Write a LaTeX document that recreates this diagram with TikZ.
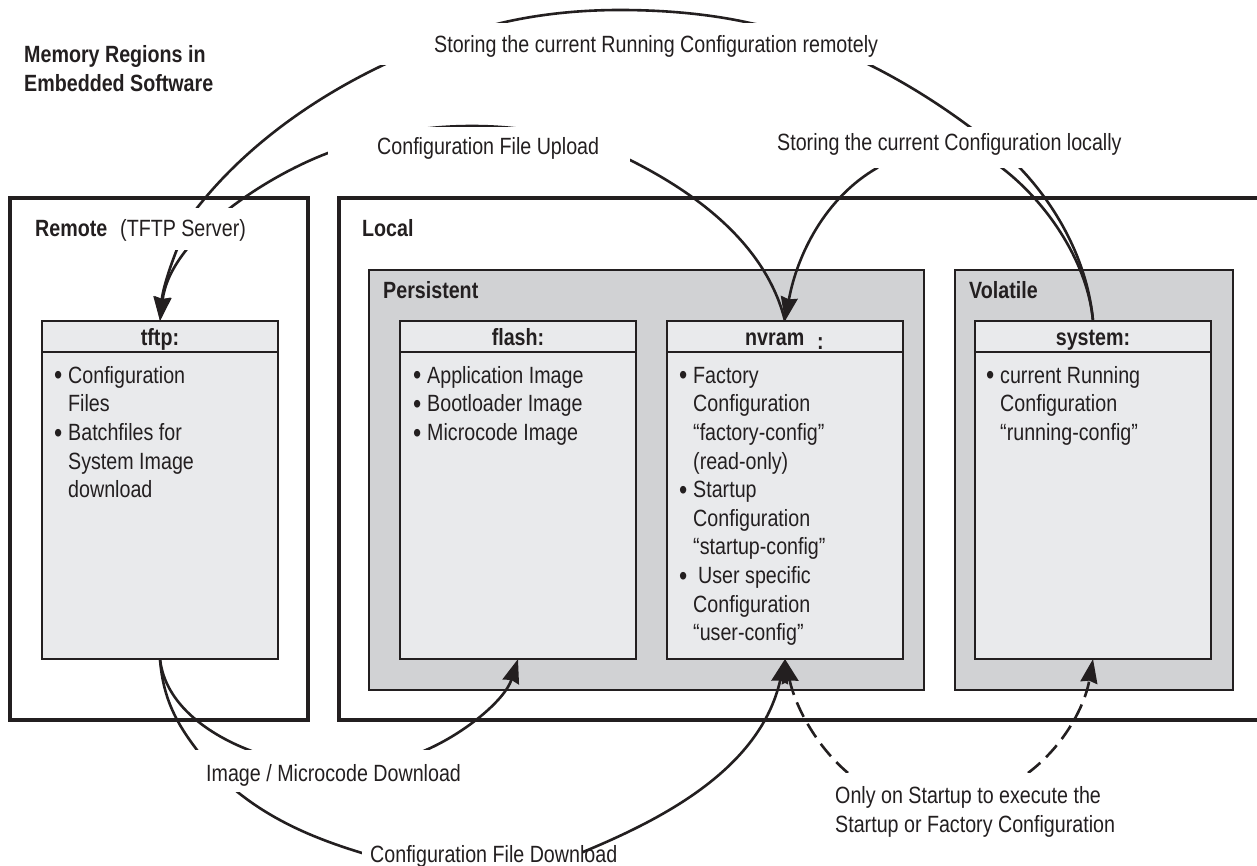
\documentclass[tikz,border=0pt]{standalone}
\usepackage{fontspec}
\setmainfont[FakeStretch=0.837]{Liberation Sans}
\usetikzlibrary{arrows.meta,calc}
\definecolor{ink}{HTML}{231F20}
\definecolor{outergrey}{HTML}{D1D2D4}
\definecolor{innergrey}{HTML}{E9EAEC}
\newcommand{\Bl}[1]{\rule{0pt}{20pt}\llap{\raisebox{-1.6pt}{\fontsize{28}{28}\selectfont\textbullet}\hspace{5.9pt}}#1}
\tikzset{
  region/.style={draw=ink,line width=4pt,fill=none,anchor=north west,inner sep=0pt,outer sep=0pt},
  zone/.style={draw=ink,line width=2.2pt,fill=outergrey,anchor=north west,inner sep=0pt,outer sep=0pt},
  memory/.style={draw=ink,line width=2.5pt,fill=innergrey,anchor=north west,inner sep=0pt,outer sep=0pt,minimum width=236pt,minimum height=338pt},
  divider/.style={draw=ink,line width=2.5pt},
  conn/.style={draw=ink,line width=2.6pt,line cap=butt},
  tipped/.style={-{Stealth[length=24pt,width=17pt,inset=2pt]}},
  dashconn/.style={conn,tipped,dash pattern=on 16pt off 8pt},
  mask/.style={fill=white,draw=none},
  txt/.style={text=ink,inner sep=0pt,anchor=base west,font=\fontsize{23.5}{28.6}\selectfont},
  btxt/.style={txt,font=\fontsize{23.5}{28.6}\selectfont\bfseries},
  head/.style={btxt,anchor=base},
  list/.style={text=ink,inner sep=0pt,anchor=north west,align=left,font=\fontsize{23.5}{28.6}\selectfont},
}
\begin{document}
\begin{tikzpicture}[x=1pt,y=-1pt]
\clip (0,0) rectangle (1257,866);
\fill[white] (0,0) rectangle (1257,866);
% regions
\node[region,minimum width=298pt,minimum height=522pt] (remote) at (10,198) {};
\node[region,minimum width=950pt,minimum height=522pt] (local) at (339,198) {};
\node[zone,minimum width=555pt,minimum height=420pt] (persistent) at (369,270) {};
\node[zone,minimum width=278pt,minimum height=420pt] (volatile) at (955,270) {};
\node[memory] (tftp) at (42,321) {};
\node[memory] (flash) at (400,321) {};
\node[memory] (nvram) at (667,321) {};
\node[memory] (system) at (975,321) {};
\foreach \b in {tftp,flash,nvram,system}
  \draw[divider] ($(\b.north west)+(0,31)$) -- ($(\b.north east)+(0,31)$);
% connectors
\coordinate (dashA) at (848,773);
\coordinate (dashB) at (1028,773);
\draw[conn,tipped] (system.north) .. controls (1088,265) and (1060,210) .. (1020,168)
  .. controls (950,105) and (850,42) .. (750,23)
  .. controls (710,14) and (665,10) .. (620,10)
  .. controls (575,10) and (535,15) .. (501,23)
  .. controls (390,50) and (270,115) .. (197,208)
  .. controls (180,235) and (163,285) .. (tftp.north);
\draw[conn,tipped] (system.north) .. controls (1088,265) and (1050,205) .. (1002,168)
  .. controls (960,135) and (910,135) .. (877,168)
  .. controls (825,198) and (797,255) .. (nvram.north);
\draw[conn,tipped] (nvram.north) .. controls (770,260) and (720,205) .. (630,160)
  .. controls (585,138) and (530,126) .. (472,126)
  .. controls (420,126) and (375,135) .. (328,153)
  .. controls (262,178) and (170,240) .. (tftp.north);
\draw[conn,tipped] (tftp.south) .. controls (165,705) and (210,735) .. (249,750)
  .. controls (310,775) and (370,775) .. (426,750)
  .. controls (465,733) and (505,700) .. (flash.south);
\draw[conn,tipped] (tftp.south) .. controls (163,700) and (178,725) .. (197,750)
  .. controls (245,815) and (320,840) .. (362,853)
  .. controls (410,870) and (530,875) .. (583,852)
  .. controls (660,820) and (760,770) .. (nvram.south);
\draw[dashconn] (dashA) .. controls (815,745) and (795,705) .. (nvram.south);
\draw[dashconn] (dashB) .. controls (1065,745) and (1085,705) .. (system.south);
% white label grounds
\fill[mask] (380,23) rectangle (880,65);
\fill[mask] (328,127) rectangle (630,176);
\fill[mask] (760,127) rectangle (1130,168);
\fill[mask] (40,208) rectangle (256,250);
\fill[mask] (190,750) rectangle (440,792);
\fill[mask] (362,835) rectangle (583,866);
\fill[mask] (825,773) rectangle (1100,835);
% texts
\node[btxt] (t1) at (24,63) {Memory Regions in};
\node[btxt] (t2) at (24,92) {Embedded Software};
\node[txt] (l1) at (434,53) {Storing the current Running Configuration remotely};
\node[txt] (l2) at (377,155) {Configuration File Upload};
\node[txt] (l3) at (777,151) {Storing the current Configuration locally};
\node[btxt] (r1) at (35,237) {Remote};
\node[txt] (r2) at (120,237) {(TFTP Server)};
\node[btxt] (r3) at (362,237) {Local};
\node[btxt] (r4) at (383,299) {Persistent};
\node[btxt] (r5) at (969,299) {Volatile};
\node[head] (h1) at (tftp.north |- 0,345) {tftp:};
\node[head] (h2) at (flash.north |- 0,345) {flash:};
\node[btxt] (h3) at (745,345) {nvram};
\node[btxt] (h3c) at (817,349) {:};
\node[head] (h4) at (system.north |- 0,345) {system:};
\node[list] (b1) at (68,363) {\Bl{Configuration}\\Files\\\Bl{Batchfiles for}\\System Image\\download};
\node[list] (b2) at (427,363) {\Bl{Application Image}\\\Bl{Bootloader Image}\\\Bl{Microcode Image}};
\node[list] (b3) at (693,363) {\Bl{Factory}\\Configuration\\“factory-config”\\(read-only)\\\Bl{Startup}\\Configuration\\“startup-config”\\\Bl{\hspace{5pt}User specific}\\Configuration\\“user-config”};
\node[list] (b4) at (1000,363) {\Bl{current Running}\\Configuration\\“running-config”};
\node[txt] (d1) at (206,781) {Image / Microcode Download};
\node[txt] (d2) at (370,862) {Configuration File Download};
\node[txt] (d3) at (835,803) {Only on Startup to execute the};
\node[txt] (d4) at (835,832) {Startup or Factory Configuration};
\end{tikzpicture}
\end{document}
